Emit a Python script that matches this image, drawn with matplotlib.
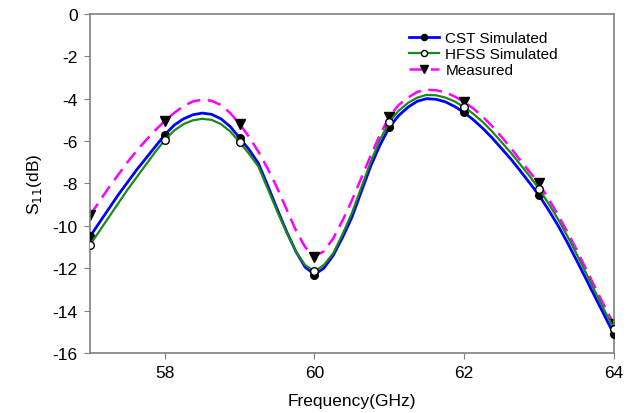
import numpy as np
import matplotlib
matplotlib.use('Agg')
import matplotlib.pyplot as plt

plt.rcParams['font.family'] = ['Liberation Sans', 'DejaVu Sans']
plt.rcParams['axes.unicode_minus'] = False

# frequency grid (GHz), curves read every 0.125 GHz
freq = np.linspace(57, 64, 57)

cst = [-10.5, -9.85, -9.2, -8.55, -7.95, -7.35, -6.8, -6.25,
       -5.7, -5.25, -4.95, -4.76, -4.68, -4.74, -4.95, -5.32,
       -5.85, -6.4, -7.05, -8.1, -9.2, -10.25, -11.2, -11.95,
       -12.3, -12.0, -11.4, -10.55, -9.6, -8.4, -7.2, -6.2,
       -5.35, -4.8, -4.4, -4.12, -4.0, -4.03, -4.15, -4.37,
       -4.65, -5.0, -5.4, -5.85, -6.35, -6.85, -7.4, -7.97,
       -8.55, -9.23, -9.95, -10.75, -11.6, -12.47, -13.35, -14.22,
       -15.1]

hfss = [-10.9, -10.25, -9.6, -8.95, -8.3, -7.7, -7.1, -6.5,
        -5.95, -5.5, -5.2, -5.02, -4.95, -5.0, -5.2, -5.55,
        -6.05, -6.6, -7.2, -8.25, -9.3, -10.3, -11.2, -11.85,
        -12.15, -11.85, -11.3, -10.4, -9.4, -8.2, -7.0, -5.95,
        -5.1, -4.57, -4.2, -3.95, -3.82, -3.84, -3.95, -4.13,
        -4.4, -4.72, -5.1, -5.55, -6.05, -6.55, -7.1, -7.65,
        -8.25, -8.93, -9.65, -10.45, -11.3, -12.2, -13.1, -13.98,
        -14.85]

measured = [-9.5, -8.85, -8.2, -7.6, -7.0, -6.45, -5.95, -5.48,
            -5.05, -4.67, -4.35, -4.13, -4.05, -4.1, -4.3, -4.68,
            -5.2, -5.8, -6.5, -7.3, -8.2, -9.2, -10.2, -11.0,
            -11.45, -11.2, -10.6, -9.75, -8.8, -7.75, -6.7, -5.7,
            -4.85, -4.3, -3.95, -3.68, -3.58, -3.6, -3.7, -3.9,
            -4.15, -4.47, -4.85, -5.3, -5.8, -6.33, -6.9, -7.45,
            -8.0, -8.7, -9.45, -10.25, -11.1, -12.0, -12.9, -13.78,
            -14.65]

xticks = [58, 60, 62, 64]
yticks = [0, -2, -4, -6, -8, -10, -12, -14, -16]

fig = plt.figure(figsize=(6.34, 4.14), dpi=100)
ax = fig.add_axes([0.142, 0.145, 0.826, 0.819])

every = slice(0, None, 8)  # markers at whole GHz
ax.plot(freq, cst, color='#0000ff', lw=2.0, marker='o', ms=5.5,
        mfc='black', mec='black', markevery=every, label='CST Simulated', zorder=3)
ax.plot(freq, hfss, color='#1a8a1a', lw=1.6, marker='o', ms=5.5,
        mfc='white', mec='black', markevery=every, label='HFSS Simulated', zorder=4)
ax.plot(freq, measured, color='#ff00ff', lw=1.8, ls=(0, (5.5, 3)), marker='v', ms=6.5,
        mfc='black', mec='black', markevery=every, label='Measured', zorder=2)

ax.set_xlim(57, 64)
ax.set_ylim(-16, 0)
ax.set_xticks(xticks)
ax.set_yticks(yticks)
ax.tick_params(direction='out', length=4, color='#808080', labelsize=12.5, pad=5)
for s in ax.spines.values():
    s.set_color('#808080')
    s.set_linewidth(1.2)

ax.set_xlabel('Frequency(GHz)', fontsize=12.5, labelpad=9)
ax.set_ylabel('S$_{11}$(dB)', fontsize=12.5, labelpad=6)

ax.legend(loc='upper left', bbox_to_anchor=(0.585, 0.985), frameon=False,
          fontsize=11, handlelength=2.0, borderpad=0.3, labelspacing=0.12,
          handletextpad=0.4, markerscale=0.8)

fig.savefig('out.png', dpi=100)
